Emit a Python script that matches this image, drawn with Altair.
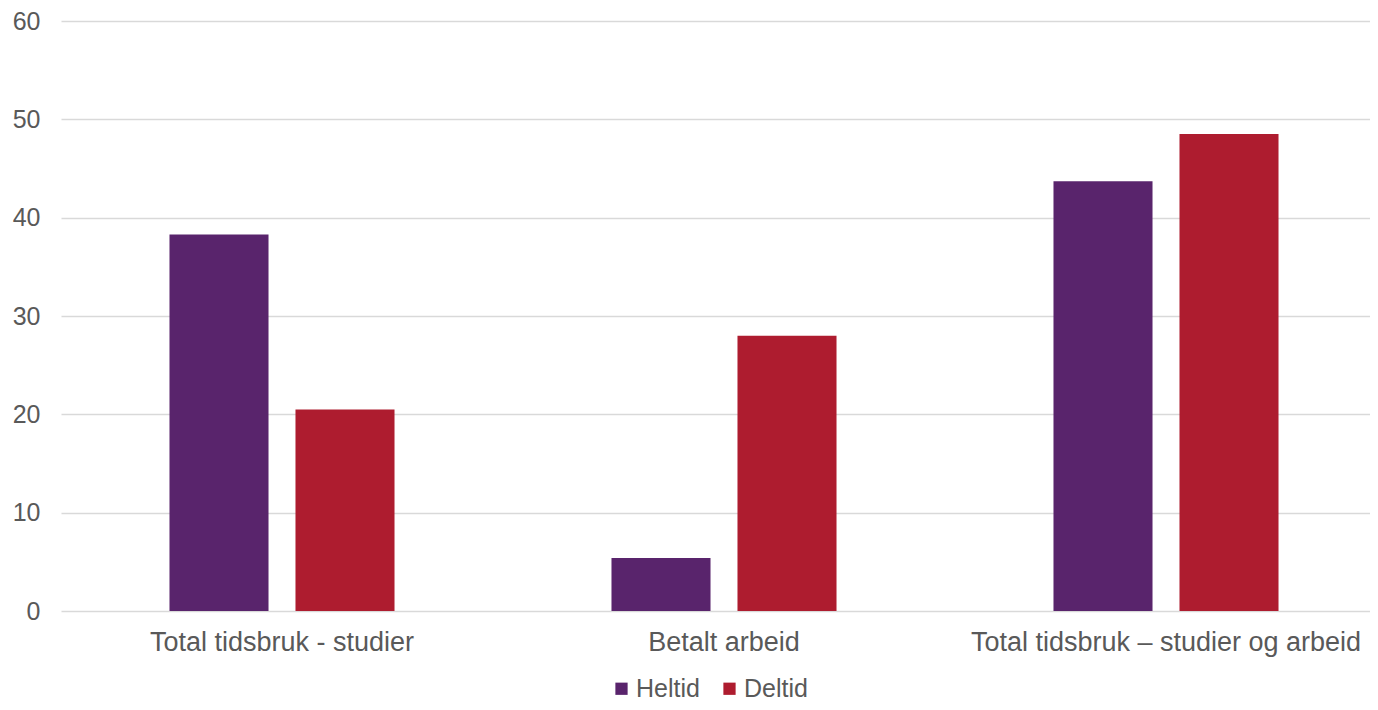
import altair as alt
import pandas as pd

categories = ["Total tidsbruk - studier", "Betalt arbeid", "Total tidsbruk – studier og arbeid"]
series = ["Heltid", "Deltid"]
heltid = [38.3, 5.4, 43.7]
deltid = [20.5, 28.0, 48.5]
colors = ["#59246C", "#AE1C2F"]
y_ticks = [0, 10, 20, 30, 40, 50, 60]

rows = []
for c, h, d in zip(categories, heltid, deltid):
    rows.append({"kategori": c, "serie": "Heltid", "verdi": h})
    rows.append({"kategori": c, "serie": "Deltid", "verdi": d})
df = pd.DataFrame(rows)

FONT = "Liberation Sans"
TXT = "#595959"

chart = alt.Chart(df).mark_bar().encode(
    x=alt.X("kategori:N", sort=categories, title=None,
            scale=alt.Scale(paddingInner=0, paddingOuter=0),
            axis=alt.Axis(labelAngle=0, ticks=False, domain=False, grid=False,
                          labelFont=FONT, labelFontSize=27, labelColor=TXT,
                          labelPadding=18, labelLimit=600)),
    xOffset=alt.XOffset("serie:N", sort=series,
                        scale=alt.Scale(paddingInner=0.214, paddingOuter=0.861)),
    y=alt.Y("verdi:Q", title=None,
            scale=alt.Scale(domain=[0, 60], nice=False),
            axis=alt.Axis(values=y_ticks, ticks=False, domain=False,
                          gridColor="#D9D9D9", gridWidth=1.5,
                          labelFont=FONT, labelFontSize=25, labelColor=TXT,
                          labelPadding=21)),
    color=alt.Color("serie:N", sort=series, title=None,
                    scale=alt.Scale(domain=series, range=colors),
                    legend=alt.Legend(orient="none", direction="horizontal",
                                      legendX=548, legendY=655, padding=0,
                                      symbolType="square", symbolSize=150,
                                      symbolStrokeWidth=0, symbolOpacity=1,
                                      labelFont=FONT, labelFontSize=25,
                                      labelColor=TXT, labelOffset=2,
                                      columnPadding=17)),
).properties(
    width=1326, height=590,
    autosize=alt.AutoSizeParams(type="none"),
    padding={"left": 53, "top": 13, "right": -17, "bottom": 91},
).configure_view(stroke=None)

chart.save("out.html", embed_options={"renderer": "svg", "actions": False})
